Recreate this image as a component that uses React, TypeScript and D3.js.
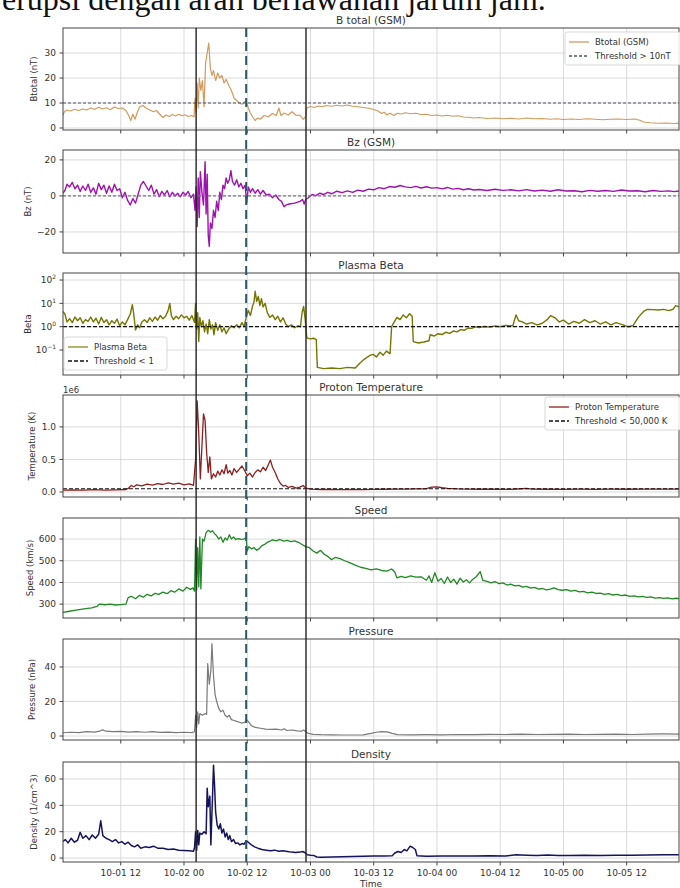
import React, { useEffect, useRef } from "react";
import * as d3 from "d3";

// time is in hours after 2024-10-01 00:00
const xTickHours = [12, 24, 36, 48, 60, 72, 84, 96, 108];
const xTickLabels = ["10-01 12", "10-02 00", "10-02 12", "10-03 00", "10-03 12", "10-04 00", "10-04 12", "10-05 00", "10-05 12"];
const eventHours = [26.3, 35.8, 47.15];

const btotal: [number, number][] = [
  [1.0, 5.0], [1.3, 6.5], [1.8, 7.2], [2.5, 6.8], [3.2, 7.5], [4.0, 7.0], [4.8, 7.6], [5.5, 7.2], [6.3, 8.0], [7.0, 7.4],
  [7.8, 8.3], [8.5, 7.6], [9.3, 8.1], [10.0, 7.3], [10.8, 8.4], [11.5, 7.8], [12.3, 8.0], [13.0, 7.0], [13.5, 5.0], [13.9, 3.0],
  [14.3, 5.5], [14.7, 3.5], [15.1, 6.0], [15.6, 8.5], [16.2, 9.0], [16.8, 8.0], [17.5, 7.2], [18.2, 6.5], [18.8, 7.0], [19.4, 5.5],
  [20.0, 4.2], [20.6, 5.2], [21.2, 4.6], [21.8, 5.4], [22.4, 4.8], [23.0, 5.5], [23.6, 4.9], [24.2, 5.3], [24.8, 4.6], [25.4, 5.0],
  [25.9, 4.5], [26.1, 12], [26.3, 6], [26.5, 18], [26.7, 8], [26.9, 20], [27.2, 15], [27.5, 19], [27.8, 8.5], [28.1, 26],
  [28.4, 30], [28.7, 34], [29.0, 24], [29.3, 21], [29.6, 23], [30.0, 19], [30.4, 22], [30.8, 20], [31.2, 21], [31.6, 18],
  [32.0, 19.5], [32.5, 17], [33.0, 15], [33.5, 12], [34.0, 11], [34.5, 10], [35.0, 9.5], [35.5, 10.5], [35.8, 11], [36.2, 8],
  [36.6, 6], [37.0, 4.5], [37.5, 3.0], [38.0, 4.0], [38.5, 3.5], [39.2, 5.0], [40.0, 4.5], [40.8, 5.8], [41.5, 5.0], [42.0, 8.0],
  [42.4, 5.0], [43.0, 6.0], [43.8, 5.2], [44.5, 6.5], [45.3, 5.0], [46.0, 5.2], [46.6, 3.5], [47.1, 4.5], [47.3, 8.0], [48.0, 8.6],
  [48.7, 8.2], [49.5, 8.8], [50.3, 8.5], [51.0, 9.0], [52, 8.7], [53, 9.1], [54, 8.8], [55, 9.2], [56, 8.7], [57, 8.5],
  [58, 8.2], [59, 7.9], [60, 7.4], [60.8, 6.8], [61.5, 5.8], [62.0, 6.3], [62.5, 5.2], [63.1, 5.9], [63.8, 5.0], [64.5, 5.9],
  [65.3, 5.6], [66, 6.1], [67, 5.7], [68, 5.9], [69, 5.4], [70, 5.5], [71, 5.0], [72, 5.2], [73, 4.8], [74, 5.1],
  [75, 4.7], [76, 4.9], [77, 4.4], [78, 4.3], [79, 4.0], [80, 4.2], [81.5, 3.8], [83, 4.0], [84.5, 3.7], [86, 3.9],
  [87.5, 3.6], [89, 4.0], [90.5, 3.7], [92, 3.8], [93.5, 3.5], [94.8, 3.7], [96, 3.4], [97.5, 3.6], [99, 3.4], [100.5, 3.7],
  [102, 3.5], [103.5, 3.3], [105, 3.5], [106.5, 3.6], [108, 3.4], [109.5, 3.6], [110.5, 3.1], [111.2, 2.4], [112.5, 2.1], [114, 1.9],
  [115.5, 2.0], [117, 1.8], [118, 2.0],
];

const bz: [number, number][] = [
  [1.0, 1.5], [1.4, 3.0], [1.8, 6.5], [2.3, 5.0], [2.8, 7.5], [3.3, 4.0], [3.8, 6.0], [4.3, 2.5], [4.8, 5.5], [5.3, 3.0],
  [5.8, 6.5], [6.3, 2.0], [6.8, 4.5], [7.3, 1.0], [7.8, 7.0], [8.3, 3.5], [8.8, 6.0], [9.3, 1.5], [9.8, 5.5], [10.3, 2.0],
  [10.8, 6.5], [11.3, 3.0], [11.8, 4.0], [12.3, -1.0], [12.8, 2.0], [13.3, -2.5], [13.8, -5.0], [14.3, -1.5], [14.8, -4.0], [15.3, 1.0],
  [15.8, 6.0], [16.3, 8.0], [16.8, 5.5], [17.3, 3.0], [17.8, 6.0], [18.3, 1.0], [18.8, 3.5], [19.3, -0.5], [19.8, 2.5], [20.3, 0.5],
  [20.8, 3.0], [21.3, -0.5], [21.8, 2.0], [22.3, 0.0], [22.8, 1.5], [23.3, -0.5], [23.8, 2.0], [24.3, 0.5], [24.8, 2.5], [25.3, -1.0],
  [25.8, 1.0], [26.1, -8], [26.3, 5], [26.5, -17], [26.7, 10], [26.9, -12], [27.1, 13.5], [27.4, 2], [27.7, -5], [28.0, 19],
  [28.2, -10], [28.4, 12], [28.6, -22], [28.8, -28], [29.0, -15], [29.3, -18], [29.6, -8], [29.9, -12], [30.2, -3], [30.5, -8],
  [30.8, 2], [31.1, -2], [31.4, 6], [31.7, 4], [32.0, 10], [32.3, 7], [32.6, 9], [32.9, 14], [33.2, 8], [33.6, 6],
  [34.0, 9], [34.4, 5], [34.8, 7], [35.2, 4], [35.6, 6], [35.9, -4], [36.2, 5], [36.6, 2], [37.0, 4], [37.5, 1.5],
  [38.0, 3.5], [38.5, 1], [39.0, 3], [39.6, 0.5], [40.2, 1], [40.8, -1], [41.4, 0.5], [42.0, -2], [42.5, -3], [43.0, -6],
  [43.4, -5], [44.0, -4.5], [45.0, -4], [46.0, -3], [46.5, -2], [46.8, -4.5], [47.1, -2], [47.6, -1], [48.3, 0.8], [49, 0.2],
  [49.8, 1.5], [50.5, 0.8], [51.3, 2.0], [52, 1.2], [53, 2.6], [54, 1.8], [55, 2.8], [56, 2.0], [57, 3.2], [58, 2.6],
  [59, 3.8], [60, 3.4], [61, 4.6], [62, 4.0], [63, 5.2], [64, 4.8], [65, 5.8], [66, 5.0], [67, 4.6], [68, 5.3],
  [69, 4.4], [70, 5.1], [71, 4.3], [72, 4.6], [73, 3.9], [74, 4.7], [75, 3.8], [76, 4.2], [77, 3.4], [78, 4.0],
  [79, 3.3], [80, 3.6], [81.5, 3.0], [83, 3.7], [84.5, 3.1], [86, 3.4], [87.5, 2.8], [89, 3.5], [90.5, 2.7], [92, 3.2],
  [93.5, 2.6], [95, 3.4], [96.5, 2.7], [98, 2.9], [99.5, 2.3], [101, 3.1], [102.5, 2.6], [104, 3.0], [105.5, 2.5], [107, 3.3],
  [108.5, 2.7], [110, 2.9], [111.5, 2.3], [113, 3.0], [114.5, 2.5], [116, 2.8], [117, 2.4], [118, 2.8],
];

const beta: [number, number][] = [
  [1.0, 4.5], [1.4, 3.5], [1.8, 1.6], [2.3, 2.2], [2.8, 1.5], [3.3, 2.6], [3.8, 1.8], [4.3, 2.4], [4.8, 1.4], [5.3, 2.0],
  [5.8, 1.7], [6.3, 2.6], [6.8, 1.6], [7.3, 2.3], [7.8, 1.3], [8.3, 2.5], [8.8, 1.5], [9.3, 2.0], [9.8, 1.2], [10.3, 1.8],
  [10.8, 1.4], [11.3, 2.1], [11.8, 1.1], [12.3, 1.6], [12.8, 1.2], [13.3, 2.0], [13.8, 3.5], [14.2, 8.8], [14.5, 3.0], [14.8, 0.72],
  [15.2, 1.2], [15.6, 0.9], [16.0, 1.6], [16.5, 2.0], [17.0, 1.5], [17.5, 2.4], [18.0, 1.7], [18.5, 2.6], [19.0, 1.9], [19.5, 3.0],
  [20.0, 2.2], [20.5, 2.8], [21.0, 5.0], [21.3, 10], [21.6, 3.0], [22.0, 2.0], [22.5, 2.8], [23.0, 2.2], [23.5, 3.2], [24.0, 2.4],
  [24.5, 2.8], [25.0, 1.9], [25.5, 3.0], [26.0, 1.5], [26.2, 10], [26.4, 0.8], [26.6, 4], [26.8, 0.23], [27.0, 2.5], [27.3, 1.0],
  [27.6, 1.8], [27.9, 0.6], [28.2, 1.3], [28.5, 0.5], [28.8, 2.0], [29.1, 0.8], [29.4, 1.2], [29.7, 0.45], [30.0, 1.5], [30.4, 0.7],
  [30.8, 1.2], [31.2, 0.6], [31.6, 0.9], [32.0, 0.5], [32.5, 0.8], [33.0, 1.1], [33.5, 0.9], [34.0, 1.2], [34.5, 0.9], [35.0, 1.5],
  [35.4, 1.0], [35.8, 2.5], [36.2, 5], [36.6, 3], [37.0, 7.4], [37.3, 12], [37.5, 33], [37.8, 12], [38.1, 20], [38.4, 8],
  [38.7, 16], [39.0, 7], [39.4, 10], [39.8, 4], [40.3, 2.5], [40.8, 3.2], [41.3, 2.0], [41.8, 2.8], [42.3, 1.6], [42.8, 2.4],
  [43.3, 1.3], [43.8, 1.0], [44.4, 1.2], [45.0, 0.9], [45.6, 1.1], [46.1, 1.0], [46.4, 4], [46.7, 7.4], [47.0, 2.0], [47.3, 0.33],
  [48.0, 0.3], [48.6, 0.32], [49.1, 0.28], [49.3, 0.018], [50.5, 0.016], [52, 0.017], [53.6, 0.016], [55, 0.018], [56.5, 0.017], [57.4, 0.028],
  [58.2, 0.04], [58.8, 0.05], [59.4, 0.06], [59.9, 0.065], [60.5, 0.05], [61.2, 0.08], [61.8, 0.06], [62.4, 0.09], [63.1, 0.07], [63.4, 1.0],
  [63.9, 1.6], [64.4, 2.5], [65, 2.0], [65.6, 3.2], [66.2, 2.4], [66.8, 3.6], [67.3, 2.8], [67.5, 0.23], [68.5, 0.2], [69.5, 0.22],
  [70.5, 0.25], [70.7, 0.45], [71.5, 0.4], [72.2, 0.5], [73, 0.46], [73.7, 0.58], [74.4, 0.52], [75.1, 0.65], [75.8, 0.6], [76.5, 0.75],
  [77.2, 0.7], [77.9, 0.88], [78.6, 0.85], [79.3, 0.98], [80, 0.92], [81, 1.02], [82, 0.96], [83, 1.08], [84, 1.0], [85, 1.12],
  [86.4, 1.1], [87.0, 3.2], [87.5, 1.8], [88.2, 1.6], [89, 1.3], [90, 1.5], [91, 1.2], [92, 1.4], [92.9, 2.0], [93.6, 3.0],
  [94.4, 2.4], [95.2, 1.6], [96, 1.9], [97, 1.3], [98, 1.7], [99, 1.4], [100, 2.0], [101, 1.5], [102, 1.8], [103, 1.3],
  [104, 1.6], [105, 1.2], [106, 1.5], [107.3, 1.2], [108.2, 1.0], [109.2, 1.1], [110.2, 2.5], [111.2, 4.5], [111.9, 5.5], [113, 5.4],
  [114, 5.2], [115, 5.5], [116, 4.9], [116.8, 5.6], [117.3, 8], [117.9, 7],
];

const temperature: [number, number][] = [
  [1.0, 30000], [3, 32000], [5, 28000], [7, 35000], [9, 30000], [11, 33000], [13, 38000], [13.5, 60000], [14.0, 100000], [14.5, 80000],
  [15.0, 110000], [16, 95000], [17, 120000], [18, 105000], [19, 130000], [20, 115000], [21, 140000], [22, 120000], [23, 135000], [24, 110000],
  [25, 125000], [25.8, 100000], [26.0, 300000], [26.2, 500000], [26.5, 1400000], [26.8, 900000], [27.1, 200000], [27.4, 700000], [27.7, 1200000], [28.0, 1100000],
  [28.3, 600000], [28.6, 300000], [28.9, 540000], [29.2, 200000], [29.6, 280000], [30.0, 230000], [30.4, 320000], [30.8, 260000], [31.2, 340000], [31.6, 280000],
  [32.0, 420000], [32.3, 290000], [32.7, 330000], [33.1, 260000], [33.5, 360000], [34.0, 300000], [34.5, 350000], [35.0, 400000], [35.5, 330000], [36.0, 250000],
  [36.5, 290000], [37.0, 230000], [37.5, 300000], [38.0, 340000], [38.5, 310000], [39.0, 380000], [39.5, 330000], [40.0, 420000], [40.4, 490000], [40.8, 380000],
  [41.3, 300000], [41.8, 200000], [42.3, 130000], [42.8, 90000], [43.3, 100000], [43.8, 70000], [44.5, 85000], [45.3, 60000], [46.0, 75000], [46.6, 100000],
  [47.1, 60000], [48, 45000], [50, 38000], [52, 40000], [54, 35000], [56, 38000], [58, 36000], [60, 40000], [62, 42000], [64, 45000],
  [66, 44000], [68, 48000], [70, 50000], [71, 75000], [72, 80000], [73, 65000], [74, 55000], [76, 48000], [78, 45000], [80, 42000],
  [83, 44000], [86, 40000], [88, 50000], [89, 55000], [90, 45000], [93, 42000], [96, 40000], [99, 43000], [102, 41000], [105, 44000],
  [108, 42000], [111, 45000], [114, 43000], [118, 44000],
];

const speed: [number, number][] = [
  [1.0, 262], [2, 266], [3.5, 272], [5, 278], [6.5, 283], [7.5, 290], [8.0, 300], [9, 297], [10, 300], [11, 296],
  [12, 298], [13, 300], [13.4, 330], [14, 336], [14.8, 325], [15.5, 340], [16.3, 332], [17, 345], [17.8, 338], [18.5, 350],
  [19.2, 345], [20, 355], [20.8, 348], [21.5, 362], [22.2, 355], [23, 370], [23.8, 360], [24.5, 378], [25.2, 368], [25.7, 375],
  [26.0, 360], [26.2, 600], [26.4, 365], [26.6, 560], [26.8, 380], [27.0, 610], [27.2, 370], [27.5, 600], [27.8, 590], [28.2, 630],
  [28.6, 640], [29.0, 632], [29.4, 638], [29.8, 625], [30.2, 615], [30.6, 600], [31.0, 610], [31.4, 585], [31.8, 605], [32.2, 595],
  [32.6, 620], [33.0, 600], [33.4, 610], [33.8, 598], [34.3, 602], [34.8, 598], [35.3, 600], [35.8, 605], [36.0, 545], [36.3, 565],
  [36.8, 555], [37.3, 560], [37.8, 548], [38.3, 556], [38.8, 570], [39.3, 575], [39.8, 585], [40.3, 590], [40.8, 596], [41.5, 592],
  [42.2, 598], [42.9, 590], [43.6, 594], [44.3, 588], [45.0, 592], [45.7, 585], [46.4, 575], [47.1, 565], [47.8, 560], [48.5, 545],
  [49.2, 535], [49.9, 548], [50.6, 530], [51.3, 520], [52.0, 505], [52.7, 515], [53.6, 510], [54.5, 500], [55.5, 490], [56.5, 480],
  [57.5, 470], [58.5, 465], [59.5, 458], [60.5, 462], [61.5, 455], [62.5, 452], [63.4, 462], [64.0, 448], [64.4, 421], [65.2, 428],
  [66.0, 422], [67.0, 430], [68.0, 424], [69.0, 426], [70.0, 410], [70.5, 430], [71.0, 400], [71.6, 445], [72.2, 405], [72.8, 418],
  [73.4, 395], [74.0, 425], [74.6, 400], [75.2, 415], [75.8, 392], [76.4, 420], [77.0, 402], [77.6, 412], [78.2, 398], [78.8, 415],
  [79.4, 425], [80.2, 450], [80.7, 410], [81.5, 405], [82.3, 398], [83, 404], [83.8, 394], [84.5, 398], [85.3, 388], [86, 392],
  [86.8, 384], [87.5, 386], [88.3, 378], [89, 382], [89.8, 374], [90.5, 377], [91.3, 369], [92, 372], [92.8, 366], [93.5, 369],
  [94.2, 375], [95, 367], [95.8, 364], [96.6, 367], [97.4, 360], [98.2, 363], [99, 356], [99.8, 359], [100.6, 352], [101.4, 355],
  [102.2, 349], [103, 351], [103.8, 345], [104.6, 348], [105.4, 342], [106.2, 345], [107, 339], [107.8, 342], [108.6, 336], [109.4, 338],
  [110.2, 333], [111, 336], [111.8, 331], [112.6, 333], [113.4, 328], [114.2, 330], [115, 326], [115.8, 329], [116.6, 324], [117.4, 327],
  [118, 325],
];

const pressure: [number, number][] = [
  [1.0, 1.9], [2.5, 2.2], [4, 2.0], [5.5, 2.5], [7, 2.3], [8, 2.8], [8.5, 3.6], [9.2, 2.8], [10.5, 2.5], [12, 2.7],
  [13.5, 2.3], [15, 2.6], [16.5, 2.2], [18, 2.5], [19.5, 2.1], [21, 2.3], [22.5, 2.0], [24, 2.2], [25.5, 2.0], [26.0, 2.5],
  [26.2, 12], [26.4, 5], [26.6, 14], [26.8, 7], [27.0, 13], [27.5, 12], [28.0, 13], [28.3, 12.5], [28.5, 42], [28.8, 30],
  [29.1, 38], [29.3, 53.5], [29.6, 35], [29.9, 24], [30.2, 20], [30.6, 16], [31.0, 14], [31.4, 15], [31.8, 12], [32.2, 11],
  [32.6, 12], [33.0, 9.5], [33.5, 9], [34.0, 8.5], [34.5, 8], [35.0, 7.5], [35.5, 8], [35.9, 9.5], [36.3, 8], [36.8, 6],
  [37.5, 5], [38.5, 4.5], [39.5, 4], [40.5, 3.8], [41.5, 4.0], [42.5, 3.5], [43.0, 4.2], [43.5, 3.2], [44.5, 3.5], [45.5, 3.0],
  [46.3, 2.8], [46.7, 3.5], [47.1, 2.5], [47.6, 1.5], [48.5, 1.0], [50, 0.8], [52, 0.7], [54, 0.6], [56, 0.6], [58, 0.7],
  [59.5, 1.5], [60.5, 2.2], [61.5, 2.6], [62.5, 2.4], [63.5, 1.5], [64.5, 0.8], [67, 0.7], [70, 0.8], [73, 0.7], [76, 0.9],
  [79, 0.8], [82, 1.0], [85, 0.9], [88, 1.1], [91, 0.9], [94, 1.0], [97, 1.1], [100, 0.9], [103, 1.0], [106, 1.1],
  [109, 0.9], [112, 1.1], [115, 1.2], [118, 1.1],
];

const density: [number, number][] = [
  [1.0, 12.6], [1.5, 14], [2.0, 11.5], [2.6, 15], [3.2, 12], [3.8, 13.5], [4.3, 19.5], [4.8, 15], [5.4, 17], [6.0, 14],
  [6.6, 17.5], [7.2, 15], [7.8, 18], [8.2, 28.3], [8.6, 17], [9.2, 15], [9.8, 14], [10.4, 12.5], [11.0, 14], [11.6, 11.5],
  [12.2, 12.5], [12.8, 10.5], [13.4, 12], [14.0, 9.5], [14.6, 8.5], [15.2, 10], [15.8, 7.5], [16.6, 8.5], [17.4, 8], [18.2, 9],
  [19.0, 7.5], [20.0, 7.5], [21.0, 6.5], [22.0, 6.8], [23.0, 6], [24.0, 5.8], [25.0, 5.5], [25.8, 5.2], [26.0, 8], [26.2, 20],
  [26.4, 6], [26.6, 21], [26.8, 10], [27.0, 19], [27.4, 18], [27.8, 20], [28.2, 18.5], [28.4, 53], [28.6, 39], [28.9, 47],
  [29.1, 10], [29.4, 45], [29.6, 70.5], [29.8, 55], [30.0, 35], [30.3, 25], [30.6, 22], [30.9, 26], [31.2, 19], [31.5, 22],
  [31.8, 16], [32.1, 19], [32.4, 14], [32.7, 17], [33.0, 12.5], [33.4, 14], [33.8, 11], [34.2, 11.5], [34.6, 10], [35.0, 11],
  [35.4, 10.5], [35.8, 13], [36.2, 12], [36.8, 10], [37.4, 8.5], [38.0, 7.5], [38.8, 6.5], [39.6, 6], [40.4, 5.5], [41.2, 6],
  [42.0, 5.2], [42.8, 5.5], [43.6, 5], [44.4, 4.5], [45.2, 4.2], [46.0, 4.5], [46.5, 5.0], [47.0, 4.0], [47.4, 2.5], [48.0, 2.2],
  [48.6, 2.0], [49.2, 0.8], [50, 0.6], [52, 0.8], [54, 1.0], [56, 1.2], [58, 1.3], [60, 1.5], [62, 1.5], [63.5, 1.8],
  [64.0, 3.8], [64.6, 5], [65.2, 4.2], [65.8, 6.5], [66.3, 5.5], [66.9, 9.0], [67.4, 8], [67.9, 6.5], [68.2, 1.8], [70, 1.4],
  [73, 1.5], [76, 1.6], [79, 1.5], [82, 1.7], [85, 1.6], [87, 2.5], [89, 2.2], [91, 2.0], [93, 2.4], [95, 2.0],
  [97, 1.9], [100, 2.2], [103, 2.0], [106, 2.1], [109, 2.2], [112, 2.3], [115, 2.5], [118, 2.6],
];

const FONT = "DejaVu Sans, sans-serif";
const TXT = "#333";
const PLOT_L = 63, PLOT_R = 679;

type Legend = { x: number; y: number; w: number; items: { label: string; color: string; dash?: string }[] };
type Panel = {
  title: string; ylabel: string; labelX: number; top: number; bottom: number;
  data: [number, number][]; color: string; width: number;
  log?: boolean; yDomain: [number, number]; yTicks: number[]; yTickLabels: string[];
  threshold?: { value: number; color: string; dash: string };
  legend?: Legend; offsetText?: string;
};

const panels: Panel[] = [
  {
    title: "B total (GSM)", ylabel: "Btotal (nT)", labelX: 37, top: 28, bottom: 130,
    data: btotal, color: "#d39a5c", width: 1.2, yDomain: [-0.8, 40],
    yTicks: [0, 10, 20, 30], yTickLabels: ["0", "10", "20", "30"],
    threshold: { value: 10, color: "#4a5560", dash: "3,2" },
    legend: { x: 565, y: 32, w: 116, items: [
      { label: "Btotal (GSM)", color: "#d39a5c" },
      { label: "Threshold > 10nT", color: "#4a5560", dash: "3,2" },
    ] },
  },
  {
    title: "Bz (GSM)", ylabel: "Bz (nT)", labelX: 31, top: 150, bottom: 253,
    data: bz, color: "#a012b0", width: 1.4, yDomain: [-31.7, 25.5],
    yTicks: [-20, 0, 20], yTickLabels: ["\u221220", "0", "20"],
    threshold: { value: 0, color: "#778", dash: "3,2" },
  },
  {
    title: "Plasma Beta", ylabel: "Beta", labelX: 31, top: 273, bottom: 375,
    data: beta, color: "#767600", width: 1.4, log: true, yDomain: [0.0085, 200],
    yTicks: [0.1, 1, 10, 100], yTickLabels: ["\u22121", "0", "1", "2"],
    threshold: { value: 1, color: "#111", dash: "4,2" },
    legend: { x: 64, y: 337, w: 103, items: [
      { label: "Plasma Beta", color: "#8a8a20" },
      { label: "Threshold < 1", color: "#111", dash: "4,2" },
    ] },
  },
  {
    title: "Proton Temperature", ylabel: "Temperature (K)", labelX: 35, top: 395, bottom: 497,
    data: temperature, color: "#8e1f1f", width: 1.3, yDomain: [-77000, 1490000],
    yTicks: [0, 500000, 1000000], yTickLabels: ["0.0", "0.5", "1.0"],
    threshold: { value: 50000, color: "#111", dash: "4,2" },
    legend: { x: 545, y: 397, w: 136, items: [
      { label: "Proton Temperature", color: "#8e1f1f" },
      { label: "Threshold < 50,000 K", color: "#111", dash: "4,2" },
    ] },
    offsetText: "1e6",
  },
  {
    title: "Speed", ylabel: "Speed (km/s)", labelX: 33, top: 518, bottom: 618,
    data: speed, color: "#1f8a22", width: 1.3, yDomain: [236, 697],
    yTicks: [300, 400, 500, 600], yTickLabels: ["300", "400", "500", "600"],
  },
  {
    title: "Pressure", ylabel: "Pressure (nPa)", labelX: 35, top: 639, bottom: 740,
    data: pressure, color: "#7a7a7a", width: 1.2, yDomain: [-2.3, 56.2],
    yTicks: [0, 20, 40], yTickLabels: ["0", "20", "40"],
  },
  {
    title: "Density", ylabel: "Density (1/cm^3)", labelX: 37, top: 762, bottom: 862,
    data: density, color: "#14145e", width: 1.5, yDomain: [-3, 72.9],
    yTicks: [0, 20, 40, 60], yTickLabels: ["0", "20", "40", "60"],
  },
];

export default function App() {
  const ref = useRef<SVGSVGElement>(null);

  useEffect(() => {
    const svg = d3.select(ref.current);
    svg.selectAll("*").remove();

    const x = d3.scaleLinear().domain([1.04, 117.93]).range([PLOT_L, PLOT_R]);

    // page text above the figure, cut off at the top
    svg.append("text")
      .attr("x", 2).attr("y", 9.5)
      .attr("font-family", "Liberation Serif, serif").attr("font-size", 32)
      .attr("fill", "#111")
      .text("erupsi dengan arah berlawanan jarum jam.");

    panels.forEach((p, i) => {
      const y = p.log
        ? d3.scaleLog().domain(p.yDomain).range([p.bottom, p.top])
        : d3.scaleLinear().domain(p.yDomain).range([p.bottom, p.top]);
      const g = svg.append("g");

      // grid
      xTickHours.forEach((h) => {
        g.append("line").attr("x1", x(h)).attr("x2", x(h)).attr("y1", p.top).attr("y2", p.bottom)
          .attr("stroke", "#d6d6d6").attr("stroke-width", 0.9);
      });
      p.yTicks.forEach((t) => {
        g.append("line").attr("x1", PLOT_L).attr("x2", PLOT_R).attr("y1", y(t)).attr("y2", y(t))
          .attr("stroke", "#d6d6d6").attr("stroke-width", 0.9);
      });

      // data
      const clipId = "clip" + i;
      svg.append("clipPath").attr("id", clipId).append("rect")
        .attr("x", PLOT_L).attr("y", p.top).attr("width", PLOT_R - PLOT_L).attr("height", p.bottom - p.top);
      const line = d3.line<[number, number]>().x((d) => x(d[0])).y((d) => y(d[1]));
      g.append("path").datum(p.data)
        .attr("clip-path", `url(#${clipId})`)
        .attr("fill", "none").attr("stroke", p.color).attr("stroke-width", p.width)
        .attr("stroke-linejoin", "round").attr("d", line);

      if (p.threshold) {
        g.append("line").attr("x1", PLOT_L).attr("x2", PLOT_R)
          .attr("y1", y(p.threshold.value)).attr("y2", y(p.threshold.value))
          .attr("stroke", p.threshold.color).attr("stroke-width", 1.2)
          .attr("stroke-dasharray", p.threshold.dash);
      }

      // frame
      g.append("rect").attr("x", PLOT_L).attr("y", p.top).attr("width", PLOT_R - PLOT_L).attr("height", p.bottom - p.top)
        .attr("fill", "none").attr("stroke", "#444").attr("stroke-width", 1);

      // ticks
      xTickHours.forEach((h) => {
        g.append("line").attr("x1", x(h)).attr("x2", x(h)).attr("y1", p.bottom).attr("y2", p.bottom + 3.5)
          .attr("stroke", "#444");
      });
      p.yTicks.forEach((t, k) => {
        g.append("line").attr("x1", PLOT_L - 3.5).attr("x2", PLOT_L).attr("y1", y(t)).attr("y2", y(t))
          .attr("stroke", "#444");
        const lab = g.append("text").attr("x", PLOT_L - 7).attr("y", y(t) + 3.2)
          .attr("text-anchor", "end").attr("font-family", FONT).attr("font-size", 9).attr("fill", TXT);
        if (p.log) {
          lab.append("tspan").text("10");
          lab.append("tspan").attr("dy", -4).attr("font-size", 6).text(p.yTickLabels[k]);
        } else {
          lab.text(p.yTickLabels[k]);
        }
      });

      if (p.offsetText) {
        g.append("text").attr("x", PLOT_L).attr("y", p.top - 2)
          .attr("font-family", FONT).attr("font-size", 8.5).attr("fill", TXT).text(p.offsetText);
      }

      // title and y label
      g.append("text").attr("x", (PLOT_L + PLOT_R) / 2).attr("y", p.top - 4.5)
        .attr("text-anchor", "middle").attr("font-family", FONT).attr("font-size", 10.5).attr("fill", TXT)
        .text(p.title);
      const cy = (p.top + p.bottom) / 2;
      g.append("text").attr("transform", `translate(${p.labelX},${cy}) rotate(-90)`)
        .attr("text-anchor", "middle").attr("font-family", FONT).attr("font-size", 8.5).attr("fill", TXT)
        .text(p.ylabel);

      // legend
      if (p.legend) {
        const L = p.legend;
        const lg = g.append("g");
        lg.append("rect").attr("x", L.x).attr("y", L.y).attr("width", L.w).attr("height", 14 * L.items.length + 5)
          .attr("rx", 2.5).attr("fill", "white").attr("fill-opacity", 0.85)
          .attr("stroke", "#cfcfcf").attr("stroke-width", 0.8);
        L.items.forEach((it, k) => {
          const ry = L.y + 10 + 14 * k;
          lg.append("line").attr("x1", L.x + 4).attr("x2", L.x + 24).attr("y1", ry).attr("y2", ry)
            .attr("stroke", it.color).attr("stroke-width", 1.3)
            .attr("stroke-dasharray", it.dash ?? null);
          lg.append("text").attr("x", L.x + 30).attr("y", ry + 3)
            .attr("font-family", FONT).attr("font-size", 8.5).attr("fill", TXT).text(it.label);
        });
      }
    });

    // x tick labels on the bottom panel
    const last = panels[panels.length - 1];
    xTickHours.forEach((h, k) => {
      svg.append("text").attr("x", x(h)).attr("y", last.bottom + 14)
        .attr("text-anchor", "middle").attr("font-family", FONT).attr("font-size", 9).attr("fill", TXT)
        .text(xTickLabels[k]);
    });
    svg.append("text").attr("x", (PLOT_L + PLOT_R) / 2).attr("y", last.bottom + 25)
      .attr("text-anchor", "middle").attr("font-family", FONT).attr("font-size", 9).attr("fill", TXT)
      .text("Time");

    // event markers across the whole figure
    eventHours.forEach((h, k) => {
      svg.append("line").attr("x1", x(h)).attr("x2", x(h))
        .attr("y1", panels[0].top).attr("y2", last.bottom)
        .attr("stroke", k === 1 ? "#2b5866" : "#222")
        .attr("stroke-width", k === 1 ? 2 : 1.4)
        .attr("stroke-dasharray", k === 1 ? "9,5" : null);
    });
  }, []);

  return (
    <svg ref={ref} width={680} height={888}
      style={{ position: "absolute", left: 0, top: 0, background: "white", display: "block" }} />
  );
}
